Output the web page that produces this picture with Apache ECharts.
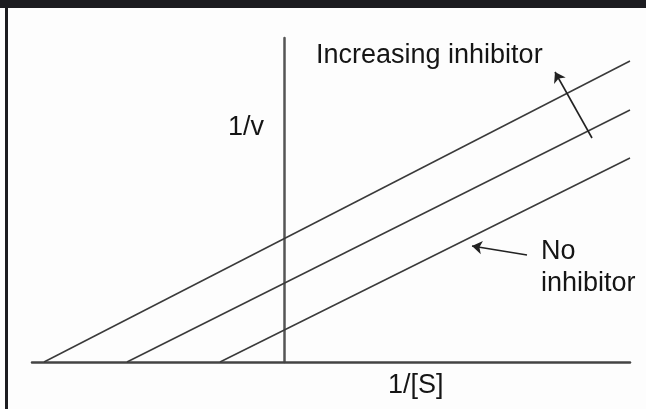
<!DOCTYPE html>
<html>
<head>
<meta charset="utf-8">
<script src="https://cdn.jsdelivr.net/npm/echarts@6/dist/echarts.min.js"></script>
<style>
html,body{margin:0;padding:0;background:#fdfdfd;}
#chart{width:646px;height:409px;}
</style>
</head>
<body>
<div id="chart"></div>
<script>
// Lineweaver-Burk plot: uncompetitive inhibition (parallel lines)
// 1/[S] where each line meets 1/v = 0, and its end point
var seriesNames = ['High inhibitor', 'Low inhibitor', 'No inhibitor'];
var xIntercepts = [-2.40, -1.57, -0.64];
var xEnd = [3.46, 3.46, 3.46];
var yEnd = [3.01, 2.52, 2.04];
// axis ranges
var xMin = -2.52, xMax = 3.46, yMin = 0, yMax = 3.24;
// annotation arrows [tailX, tailY, tipX, tipY] in data units
var arrowIncreasing = [3.08, 2.24, 2.71, 2.90];
var arrowNone = [2.43, 1.07, 1.88, 1.16];
// texts
var xName = '1/[S]';
var yName = '1/v';
var labelIncreasing = 'Increasing inhibitor';
var labelNone = ['No', 'inhibitor'];

var lineColor = '#3a3a3a';
var series = seriesNames.map(function (n, i) {
  return {
    name: n, type: 'line', symbol: 'none', silent: true,
    lineStyle: {color: lineColor, width: 1.5},
    data: [[xIntercepts[i], 0], [xEnd[i], yEnd[i]]]
  };
});
function arrow(a) {
  return [{coord: [a[0], a[1]]}, {coord: [a[2], a[3]]}];
}
series.push({
  type: 'line', symbol: 'none', silent: true,
  data: [[xMin, 0]], lineStyle: {opacity: 0},
  markLine: {
    silent: true, symbol: ['none', 'arrow'], symbolSize: 10,
    label: {show: false},
    emphasis: {disabled: true},
    lineStyle: {color: '#222', width: 1.6, type: 'solid'},
    data: [arrow(arrowIncreasing), arrow(arrowNone)]
  }
});

var font = '"Liberation Sans", Arial, sans-serif';
var chart = echarts.init(document.getElementById('chart'), null, {renderer: 'canvas'});
chart.setOption({
  backgroundColor: '#fdfdfd',
  animation: false,
  grid: {left: 32, right: 16, top: 38, bottom: 47},
  xAxis: {
    type: 'value', min: xMin, max: xMax,
    axisLine: {show: true, onZero: true, lineStyle: {color: '#444', width: 2.5}},
    axisTick: {show: false}, axisLabel: {show: false}, splitLine: {show: false}
  },
  yAxis: {
    type: 'value', min: yMin, max: yMax,
    axisLine: {show: true, onZero: true, lineStyle: {color: '#555', width: 2.5}},
    axisTick: {show: false}, axisLabel: {show: false}, splitLine: {show: false}
  },
  series: series,
  graphic: [
    {type: 'rect', shape: {x: 0, y: 0, width: 646, height: 8}, style: {fill: '#1c1c20'}},
    {type: 'rect', shape: {x: 5, y: 0, width: 3, height: 409}, style: {fill: '#1c1c20'}},
    {type: 'text', left: 228, top: 114, style: {text: yName, font: '27px ' + font, fill: '#151515'}},
    {type: 'text', left: 388, top: 372, style: {text: xName, font: '27px ' + font, fill: '#151515'}},
    {type: 'text', left: 316, top: 42, style: {text: labelIncreasing, font: '27px ' + font, fill: '#151515'}},
    {type: 'text', left: 541, top: 238, style: {text: labelNone[0], font: '27px ' + font, fill: '#151515'}},
    {type: 'text', left: 541, top: 270, style: {text: labelNone[1], font: '27px ' + font, fill: '#151515'}}
  ]
});
</script>
</body>
</html>
